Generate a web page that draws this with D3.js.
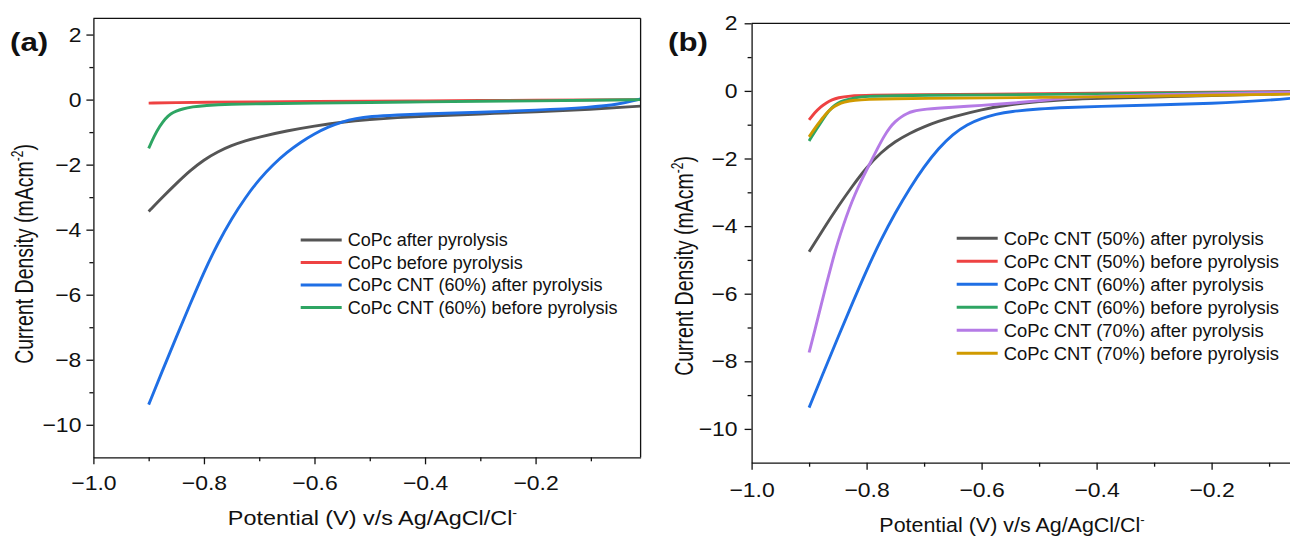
<!DOCTYPE html>
<html>
<head>
<meta charset="utf-8">
<script src="https://cdnjs.cloudflare.com/ajax/libs/d3/7.8.5/d3.min.js"></script>
<style>
  body { margin: 0; background: #fff; }
  svg { font-family: "Liberation Sans", Arial, sans-serif; }
</style>
</head>
<body>
<div id="chart"></div>
<script>
// tick values shared by both panels
var xTicks = [-1.0, -0.8, -0.6, -0.4, -0.2];
var xMinor = [-0.9, -0.7, -0.5, -0.3, -0.1];
var yTicks = [2, 0, -2, -4, -6, -8, -10];
var yMinor = [1, -1, -3, -5, -7, -9];

// legend labels + colours
var legendA = ["CoPc after pyrolysis", "CoPc before pyrolysis",
               "CoPc CNT (60%) after pyrolysis", "CoPc CNT (60%) before pyrolysis"];
var colorsA = ["#555555", "#ee4242", "#1f6fe5", "#2ea563"];

var legendB = ["CoPc CNT (50%) after pyrolysis", "CoPc CNT (50%) before pyrolysis",
               "CoPc CNT (60%) after pyrolysis", "CoPc CNT (60%) before pyrolysis",
               "CoPc CNT (70%) after pyrolysis", "CoPc CNT (70%) before pyrolysis"];
var colorsB = ["#555555", "#ee4242", "#1f6fe5", "#2ea563", "#b57be6", "#d09a00"];

// panel (a) curves: [potential V, current density mA/cm2]
var aCoPcAfter = [[-0.90,-3.44],[-0.875,-3.00],[-0.85,-2.58],[-0.825,-2.18],[-0.80,-1.85],[-0.775,-1.60],
  [-0.75,-1.41],[-0.725,-1.26],[-0.70,-1.15],[-0.65,-0.96],[-0.60,-0.81],[-0.55,-0.69],[-0.50,-0.61],
  [-0.45,-0.55],[-0.40,-0.51],[-0.30,-0.44],[-0.20,-0.38],[-0.10,-0.30],[-0.01,-0.20]];
var aCoPcBefore = [[-0.90,-0.11],[-0.85,-0.09],[-0.80,-0.08],[-0.70,-0.07],[-0.60,-0.06],[-0.50,-0.05],
  [-0.40,-0.04],[-0.30,-0.03],[-0.20,-0.02],[-0.10,-0.01],[-0.01,0.0]];
var aCnt60After = [[-0.90,-9.38],[-0.875,-8.33],[-0.85,-7.30],[-0.825,-6.29],[-0.80,-5.30],[-0.775,-4.42],
  [-0.75,-3.66],[-0.725,-3.01],[-0.70,-2.45],[-0.675,-2.00],[-0.65,-1.62],[-0.625,-1.31],[-0.60,-1.05],
  [-0.575,-0.84],[-0.55,-0.68],[-0.525,-0.58],[-0.50,-0.52],[-0.45,-0.47],[-0.40,-0.44],[-0.30,-0.39],
  [-0.20,-0.33],[-0.10,-0.24],[-0.05,-0.15],[-0.01,0.02]];
var aCnt60Before = [[-0.90,-1.50],[-0.89,-1.12],[-0.88,-0.82],[-0.87,-0.58],[-0.86,-0.43],[-0.85,-0.35],
  [-0.84,-0.29],[-0.82,-0.22],[-0.80,-0.18],[-0.75,-0.14],[-0.70,-0.13],[-0.60,-0.11],[-0.50,-0.09],
  [-0.40,-0.07],[-0.30,-0.05],[-0.20,-0.04],[-0.10,-0.02],[-0.01,0.0]];

// panel (b) curves
var b50After = [[-0.90,-4.76],[-0.875,-4.08],[-0.85,-3.43],[-0.825,-2.82],[-0.80,-2.26],[-0.775,-1.82],
  [-0.75,-1.49],[-0.725,-1.25],[-0.70,-1.06],[-0.675,-0.90],[-0.65,-0.77],[-0.60,-0.55],[-0.55,-0.40],
  [-0.50,-0.31],[-0.45,-0.25],[-0.40,-0.22],[-0.30,-0.18],[-0.20,-0.14],[-0.10,-0.09],[0.0,-0.05]];
var b50Before = [[-0.90,-0.86],[-0.89,-0.64],[-0.88,-0.47],[-0.87,-0.35],[-0.86,-0.26],[-0.85,-0.20],
  [-0.83,-0.15],[-0.80,-0.13],[-0.70,-0.11],[-0.60,-0.10],[-0.40,-0.07],[-0.20,-0.04],[0.0,-0.01]];
var b60After = [[-0.90,-9.37],[-0.875,-8.33],[-0.85,-7.30],[-0.825,-6.29],[-0.80,-5.30],[-0.775,-4.40],
  [-0.75,-3.60],[-0.725,-2.88],[-0.70,-2.24],[-0.675,-1.70],[-0.65,-1.28],[-0.625,-0.99],[-0.60,-0.81],
  [-0.575,-0.69],[-0.55,-0.61],[-0.50,-0.53],[-0.45,-0.49],[-0.40,-0.46],[-0.30,-0.42],[-0.20,-0.37],
  [-0.10,-0.28],[-0.05,-0.20],[0.0,-0.12]];
var b60Before = [[-0.90,-1.48],[-0.89,-1.20],[-0.88,-0.95],[-0.87,-0.68],[-0.86,-0.48],[-0.85,-0.36],
  [-0.84,-0.28],[-0.82,-0.20],[-0.80,-0.16],[-0.75,-0.14],[-0.70,-0.13],[-0.60,-0.12],[-0.40,-0.09],
  [-0.20,-0.05],[0.0,-0.02]];
var b70After = [[-0.90,-7.74],[-0.89,-7.08],[-0.88,-6.40],[-0.87,-5.72],[-0.86,-5.07],[-0.85,-4.47],
  [-0.84,-3.95],[-0.83,-3.47],[-0.82,-3.05],[-0.81,-2.68],[-0.80,-2.34],[-0.79,-2.00],[-0.78,-1.67],
  [-0.77,-1.35],[-0.76,-1.09],[-0.75,-0.90],[-0.74,-0.77],[-0.73,-0.67],[-0.72,-0.60],[-0.70,-0.54],
  [-0.65,-0.48],[-0.60,-0.43],[-0.55,-0.37],[-0.50,-0.29],[-0.45,-0.21],[-0.40,-0.16],[-0.30,-0.11],
  [-0.20,-0.08],[-0.10,-0.05],[0.0,-0.03]];
var b70Before = [[-0.90,-1.36],[-0.89,-1.10],[-0.88,-0.88],[-0.87,-0.66],[-0.86,-0.50],[-0.85,-0.40],
  [-0.84,-0.33],[-0.82,-0.27],[-0.80,-0.25],[-0.75,-0.23],[-0.70,-0.22],[-0.60,-0.21],[-0.40,-0.18],
  [-0.20,-0.13],[0.0,-0.08]];

var svg = d3.select('#chart').append('svg')
  .attr('width', 1290)
  .attr('height', 537);

// the source figure is a bit stretched sideways, so text gets a horizontal scale
function wideText(g, str, x, y, size, k, anchor) {
  return g.append('text')
    .attr('transform', `translate(${x},${y}) scale(${k},1)`)
    .attr('text-anchor', anchor || 'start')
    .attr('font-size', size)
    .attr('fill', '#111')
    .text(str);
}

function drawPanel(p) {
  var x = d3.scaleLinear().domain(p.xDomain).range([p.left, p.right]);
  var y = d3.scaleLinear().domain(p.yDomain).range([p.bottom, p.top]);
  var g = svg.append('g');

  g.append('clipPath').attr('id', p.id + 'clip')
    .append('rect')
    .attr('x', p.left).attr('y', p.top)
    .attr('width', p.right - p.left).attr('height', p.bottom - p.top);

  var line = d3.line()
    .x(function(d) { return x(d[0]); })
    .y(function(d) { return y(d[1]); })
    .curve(d3.curveBasis);

  g.append('g').attr('clip-path', `url(#${p.id}clip)`)
    .selectAll('path').data(p.series).enter().append('path')
    .attr('d', line)
    .attr('fill', 'none')
    .attr('stroke', function(d, i) { return p.colors[i]; })
    .attr('stroke-width', 2.9)
    .attr('stroke-linejoin', 'round');

  // minor ticks first, majors on top
  g.append('g').attr('transform', `translate(0,${p.bottom})`)
    .call(d3.axisBottom(x).tickValues(xMinor).tickSize(4).tickSizeOuter(0).tickFormat(''))
    .call(function(s) { s.select('.domain').remove(); });
  g.append('g').attr('transform', `translate(${p.left},0)`)
    .call(d3.axisLeft(y).tickValues(yMinor).tickSize(4).tickSizeOuter(0).tickFormat(''))
    .call(function(s) { s.select('.domain').remove(); });

  var bottomAxis = g.append('g').attr('transform', `translate(0,${p.bottom})`)
    .call(d3.axisBottom(x).tickValues(xTicks).tickSize(7).tickSizeOuter(0).tickFormat(d3.format('.1f')));
  bottomAxis.selectAll('text')
    .attr('y', p.xLabelGap).attr('dy', 0)
    .attr('font-size', 20.5).attr('fill', '#111')
    .attr('transform', 'scale(1.12,1)');

  var leftAxis = g.append('g').attr('transform', `translate(${p.left},0)`)
    .call(d3.axisLeft(y).tickValues(yTicks).tickSize(7).tickSizeOuter(0));
  leftAxis.selectAll('text')
    .attr('x', -p.yLabelGap / 1.12)
    .attr('font-size', 20.5).attr('fill', '#111')
    .attr('transform', 'scale(1.12,1)');

  g.selectAll('.domain, .tick line').attr('stroke', '#111').attr('stroke-width', 1.3);

  // frame: top and right edges
  g.append('line').attr('x1', p.left).attr('x2', p.right).attr('y1', p.top).attr('y2', p.top)
    .attr('stroke', '#111').attr('stroke-width', 1.3);
  g.append('line').attr('x1', p.right).attr('x2', p.right).attr('y1', p.top).attr('y2', p.bottom)
    .attr('stroke', '#111').attr('stroke-width', 1.3);

  // legend
  p.labels.forEach(function(lab, i) {
    var ly = p.legY + i * p.legStep;
    g.append('line')
      .attr('x1', p.legX).attr('x2', p.legX + 41)
      .attr('y1', ly).attr('y2', ly)
      .attr('stroke', p.colors[i]).attr('stroke-width', 3);
    wideText(g, lab, p.legX + 47, ly + 6.3, 17.5, p.legK);
  });

  // panel letter
  wideText(g, p.letter, p.letterX, 51, 25, 1.25).attr('font-weight', 'bold');

  // x title with superscript minus
  var xt = wideText(g, 'Potential (V) v/s Ag/AgCl/Cl', p.xTitleX, p.xTitleY, 19.5, p.xTitleK, 'middle');
  xt.append('tspan').attr('font-size', 12).attr('dy', -8).text('-');

  // y title, rotated
  var yt = g.append('text')
    .attr('transform', `translate(${p.yTitleX},${p.yTitleY}) rotate(-90) scale(1,1.3)`)
    .attr('text-anchor', 'middle')
    .attr('font-size', 19.5)
    .attr('fill', '#111')
    .text('Current Density (mAcm');
  yt.append('tspan').attr('font-size', 12).attr('dy', -8).text('-2');
  yt.append('tspan').attr('dy', 8).text(')');
}

drawPanel({
  id: 'a', letter: '(a)', letterX: 10,
  left: 93.4, right: 640.6, top: 18.3, bottom: 457.3,
  xDomain: [-1, -0.01], yDomain: [-11, 2.5],
  series: [aCoPcAfter, aCoPcBefore, aCnt60After, aCnt60Before],
  colors: colorsA, labels: legendA,
  legX: 300.7, legY: 240, legStep: 22.5, legK: 1.03,
  xLabelGap: 33, yLabelGap: 12,
  xTitleX: 372.5, xTitleY: 525, xTitleK: 1.2,
  yTitleX: 33, yTitleY: 254
});

drawPanel({
  id: 'b', letter: '(b)', letterX: 668,
  left: 751.6, right: 1326.6, top: 23.3, bottom: 462.7,
  xDomain: [-1, 0], yDomain: [-11, 2],
  series: [b50After, b50Before, b60After, b60Before, b70After, b70Before],
  colors: colorsB, labels: legendB,
  legX: 956.7, legY: 238.3, legStep: 23, legK: 1.05,
  xLabelGap: 34, yLabelGap: 14,
  xTitleX: 1012, xTitleY: 532, xTitleK: 1.1,
  yTitleX: 693.3, yTitleY: 266
});
</script>
</body>
</html>
